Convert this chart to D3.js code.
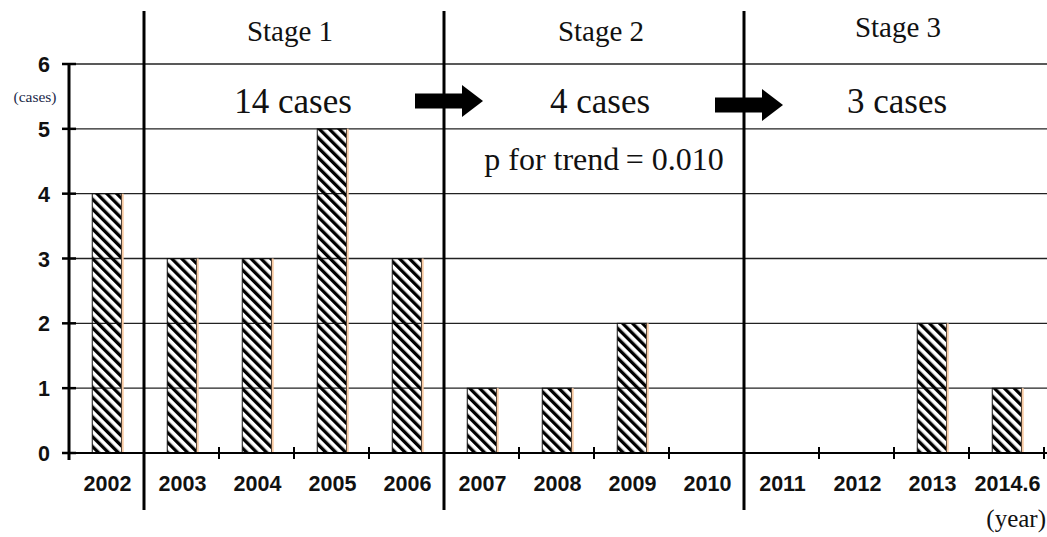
<!DOCTYPE html>
<html>
<head>
<meta charset="utf-8">
<script src="https://cdn.jsdelivr.net/npm/d3@7"></script>
<style>
  body { margin: 0; background: #fff; }
  svg { display: block; }
  .serif { font-family: "Liberation Serif", "Times New Roman", serif; }
  .sans { font-family: "Liberation Sans", Arial, sans-serif; font-weight: bold; }
</style>
</head>
<body>
<svg id="chart" width="1047" height="537"></svg>
<script>
// data
var years = ['2002', '2003', '2004', '2005', '2006', '2007', '2008', '2009', '2010', '2011', '2012', '2013', '2014.6'];
var cases = [4, 3, 3, 5, 3, 1, 1, 2, 0, 0, 0, 2, 1];
var yTicks = [0, 1, 2, 3, 4, 5, 6];
var stageNames = ['Stage 1', 'Stage 2', 'Stage 3'];
var stageStart = ['2003', '2007', '2011'];
var stageEnd = ['2006', '2010', '2014.6'];
var stageCases = ['14 cases', '4 cases', '3 cases'];
var trendText = 'p for trend\u2009= 0.010';

var svg = d3.select('#chart');

var x = d3.scaleBand().domain(years).range([69, 1044]).padding(0);
var y = d3.scaleLinear().domain([0, 6]).range([453, 64]);
var bw = x.bandwidth();

// hatch fill
var defs = svg.append('defs');
defs.append('pattern')
    .attr('id', 'hatch')
    .attr('patternUnits', 'userSpaceOnUse')
    .attr('width', 7)
    .attr('height', 7)
    .attr('patternTransform', 'rotate(-45)')
  .append('rect')
    .attr('x', 0).attr('y', 0)
    .attr('width', 3.3).attr('height', 7)
    .attr('fill', '#000');

// horizontal grid lines
svg.append('g')
    .selectAll('line')
    .data(yTicks.filter(function(d) { return d > 0; }))
    .join('line')
    .attr('x1', 69).attr('x2', 1047)
    .attr('y1', function(d) { return y(d); })
    .attr('y2', function(d) { return y(d); })
    .attr('stroke', '#222')
    .attr('stroke-width', 1.3);

// bars
var bars = svg.append('g');
var barData = years.map(function(d, i) { return { year: d, v: cases[i] }; })
    .filter(function(d) { return d.v > 0; });

bars.selectAll('rect')
    .data(barData)
    .join('rect')
    .attr('x', function(d) { return x(d.year) + bw * 0.31; })
    .attr('y', function(d) { return y(d.v); })
    .attr('width', bw * 0.39)
    .attr('height', function(d) { return y(0) - y(d.v); })
    .attr('fill', 'url(#hatch)')
    .attr('stroke', '#111')
    .attr('stroke-width', 1);

// peach edge on right side of bars
bars.selectAll('line')
    .data(barData)
    .join('line')
    .attr('x1', function(d) { return x(d.year) + bw * 0.70 + 1.2; })
    .attr('x2', function(d) { return x(d.year) + bw * 0.70 + 1.2; })
    .attr('y1', function(d) { return y(d.v); })
    .attr('y2', y(0))
    .attr('stroke', '#f7c9a2')
    .attr('stroke-width', 2);

// x axis line
svg.append('line')
    .attr('x1', 62).attr('x2', 1047)
    .attr('y1', y(0)).attr('y2', y(0))
    .attr('stroke', '#000').attr('stroke-width', 2);

// x ticks at band boundaries
svg.append('g')
    .selectAll('line')
    .data(years.slice(1).concat(['end']))
    .join('line')
    .attr('x1', function(d) { return d === 'end' ? 1044 : x(d); })
    .attr('x2', function(d) { return d === 'end' ? 1044 : x(d); })
    .attr('y1', y(0) - 6).attr('y2', y(0) + 6)
    .attr('stroke', '#000').attr('stroke-width', 2);

// x labels
svg.append('g')
    .selectAll('text')
    .data(years)
    .join('text')
    .attr('class', 'sans')
    .attr('x', function(d) { return x(d) + bw / 2 + 1; })
    .attr('y', 491)
    .attr('text-anchor', 'middle')
    .attr('font-size', 21.5)
    .attr('fill', '#111')
    .text(function(d) { return d; });

// y axis
svg.append('line')
    .attr('x1', 69).attr('x2', 69)
    .attr('y1', y(6)).attr('y2', y(0) + 7)
    .attr('stroke', '#000').attr('stroke-width', 3);

svg.append('g')
    .selectAll('line')
    .data(yTicks)
    .join('line')
    .attr('x1', 62).attr('x2', 76)
    .attr('y1', function(d) { return y(d); })
    .attr('y2', function(d) { return y(d); })
    .attr('stroke', '#000').attr('stroke-width', 2.5);

svg.append('g')
    .selectAll('text')
    .data(yTicks)
    .join('text')
    .attr('class', 'sans')
    .attr('x', 50)
    .attr('y', function(d) { return y(d) + 8; })
    .attr('text-anchor', 'end')
    .attr('font-size', 21.5)
    .attr('fill', '#111')
    .text(function(d) { return d; });

svg.append('text')
    .attr('class', 'serif')
    .attr('x', 35).attr('y', 102)
    .attr('text-anchor', 'middle')
    .attr('font-size', 15.5)
    .attr('fill', '#1c2a4a')
    .text('(cases)');

// stage dividers
svg.append('g')
    .selectAll('line')
    .data(stageStart)
    .join('line')
    .attr('x1', function(d) { return x(d); })
    .attr('x2', function(d) { return x(d); })
    .attr('y1', 11).attr('y2', 510)
    .attr('stroke', '#000').attr('stroke-width', 3);

// stage titles and case counts
var stageMid = function(i) {
    return (x(stageStart[i]) + x(stageEnd[i]) + bw) / 2;
};
var titleShift = [-4, 7, 4];
var titleBase = [41, 41, 37];
var countShift = [-1, 6, 3];

svg.append('g')
    .selectAll('text')
    .data(stageNames)
    .join('text')
    .attr('class', 'serif')
    .attr('x', function(d, i) { return stageMid(i) + titleShift[i]; })
    .attr('y', function(d, i) { return titleBase[i]; })
    .attr('text-anchor', 'middle')
    .attr('font-size', 29)
    .attr('fill', '#111')
    .text(function(d) { return d; });

svg.append('g')
    .selectAll('text')
    .data(stageCases)
    .join('text')
    .attr('class', 'serif')
    .attr('x', function(d, i) { return stageMid(i) + countShift[i]; })
    .attr('y', 113)
    .attr('text-anchor', 'middle')
    .attr('font-size', 35)
    .attr('fill', '#111')
    .text(function(d) { return d; });

svg.append('text')
    .attr('class', 'serif')
    .attr('x', stageMid(1) + 10).attr('y', 170)
    .attr('text-anchor', 'middle')
    .attr('font-size', 32)
    .attr('fill', '#111')
    .text(trendText);

// block arrows across stage boundaries
var arrowY = [101, 105];
svg.append('g')
    .selectAll('path')
    .data(stageStart.slice(1))
    .join('path')
    .attr('d', function(d, i) {
        var x0 = x(d) - 29, x1 = x(d) + 18, x2 = x(d) + 39, cy = arrowY[i];
        return 'M' + x0 + ',' + (cy - 7.5) + 'H' + x1 + 'V' + (cy - 16) +
            'L' + x2 + ',' + cy + 'L' + x1 + ',' + (cy + 16) + 'V' + (cy + 7.5) +
            'H' + x0 + 'Z';
    })
    .attr('fill', '#000');

// unit label
svg.append('text')
    .attr('class', 'serif')
    .attr('x', 1046).attr('y', 527)
    .attr('text-anchor', 'end')
    .attr('font-size', 25)
    .attr('fill', '#111')
    .text('(year)');
</script>
</body>
</html>
